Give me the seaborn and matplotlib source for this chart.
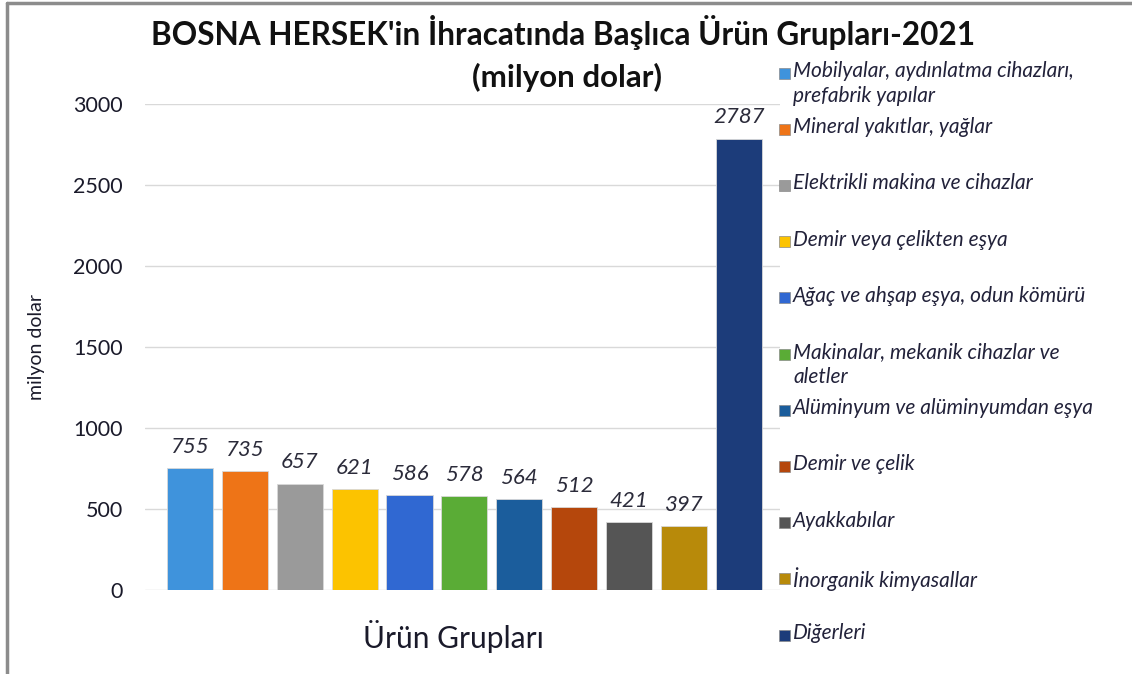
import matplotlib
matplotlib.use("Agg")
import matplotlib.pyplot as plt
from matplotlib.patches import Rectangle
from matplotlib.lines import Line2D
import seaborn as sns
import pandas as pd

groups = ["Mobilyalar, aydınlatma cihazları,\nprefabrik yapılar",
          "Mineral yakıtlar, yağlar",
          "Elektrikli makina ve cihazlar",
          "Demir veya çelikten eşya",
          "Ağaç ve ahşap eşya, odun kömürü",
          "Makinalar, mekanik cihazlar ve\naletler",
          "Alüminyum ve alüminyumdan eşya",
          "Demir ve çelik",
          "Ayakkabılar",
          "İnorganik kimyasallar",
          "Diğerleri"]
values = [755, 735, 657, 621, 586, 578, 564, 512, 421, 397, 2787]
colors = ["#3f93dc", "#ee7417", "#9a9a9a", "#fcc300", "#3068d2", "#5aac36",
          "#1b5d9c", "#b5470c", "#555555", "#b88a0a", "#1c3c7a"]

df = pd.DataFrame({"grup": groups, "deger": values})

sns.set_style("white")
plt.rcParams["font.family"] = ["Lato", "DejaVu Sans"]

W, H = 1132, 674
fig = plt.figure(figsize=(W / 100, H / 100), dpi=100)
ax = fig.add_axes([145 / W, 1 - 590 / H, 635 / W, 486 / H])

sns.barplot(data=df, x="grup", y="deger", hue="grup", palette=colors,
            width=0.84, legend=False, ax=ax, saturation=1)

for c in ax.containers:
    ax.bar_label(c, padding=8, fontsize=16, style="italic", color="#2b2b3a")
for p in ax.patches:
    p.set_edgecolor("#d8d8d8")
    p.set_linewidth(0.6)

ax.set_ylim(0, 3000)
ax.set_xlim(-0.82, 10.75)
ax.set_yticks(range(0, 3001, 500))
ax.tick_params(axis="y", labelsize=15.5, length=0, pad=16, labelcolor="#1a1a2a")
ax.set_xticks([])
ax.yaxis.grid(True, color="#d9d9d9", linewidth=1)
ax.set_axisbelow(True)
for s in ax.spines.values():
    s.set_visible(False)

ax.set_xlabel("Ürün Grupları", fontsize=21.5, color="#1a1a2a")
ax.xaxis.set_label_coords(308 / 635, -30 / 486)
ax.set_ylabel("milyon dolar", fontsize=14, color="#1a1a2a")
ax.yaxis.set_label_coords(-100 / 635, 0.5)

fig.text(563 / W, 1 - 33 / H, "BOSNA HERSEK'in İhracatında Başlıca Ürün Grupları-2021",
         ha="center", va="center", fontsize=22.7, fontweight="bold", color="#111111")
fig.text(567 / W, 1 - 77 / H, "(milyon dolar)", ha="center", va="center",
         fontsize=22.5, fontweight="bold", color="#111111")

# legend, one slot per group
pitch = 56.2
for i, (lab, col) in enumerate(zip(groups, colors)):
    yc = 73 + i * pitch
    fig.add_artist(Rectangle((779 / W, 1 - (yc + 5.5) / H), 11 / W, 11 / H,
                             transform=fig.transFigure, facecolor=col,
                             edgecolor="#8a8a8a", linewidth=0.5))
    fig.text(793 / W, 1 - (yc - 12) / H, lab, ha="left", va="top",
             fontsize=15, style="italic", color="#22223a", linespacing=1.3)

fig.add_artist(Line2D([0.006, 0.006], [0, 0.995], color="#8c8c8c", linewidth=2.5))
fig.add_artist(Line2D([0.006, 1.0], [0.995, 0.995], color="#8c8c8c", linewidth=2.5))

fig.savefig("out.png", dpi=100)
